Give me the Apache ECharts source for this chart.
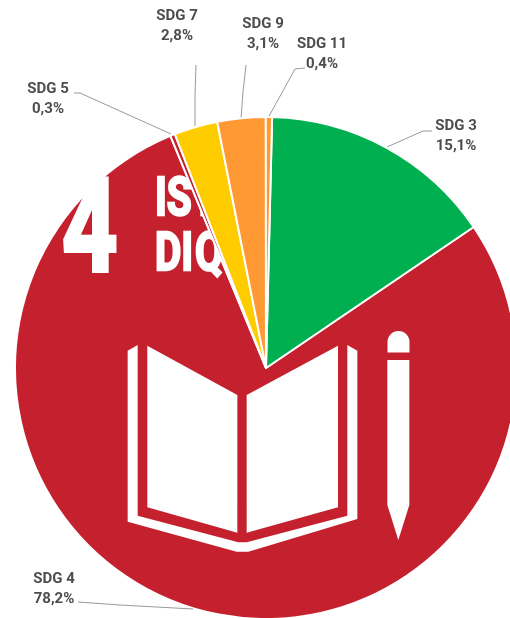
<!DOCTYPE html>
<html>
<head>
<meta charset="utf-8">
<style>html,body{margin:0;padding:0;background:#fff}#chart{width:510px;height:618px}</style>
<script src="https://cdn.jsdelivr.net/npm/echarts@6/dist/echarts.min.js"></script>
</head>
<body>
<div id="chart"></div>
<script>
// Share of the portfolio by Sustainable Development Goal, in percent.
const categories = ['SDG 3', 'SDG 4', 'SDG 5', 'SDG 7', 'SDG 9', 'SDG 11'];
const shares = [15.1, 78.2, 0.3, 2.8, 3.1, 0.4];
const colours = ['#00b050', '#c4202e', '#c4202e', '#ffcc00', '#ff9933', '#ff9933'];
const backdropGoal = 'SDG 4';

// Label centres and leader-line routes, per goal.
const labelSpots = {
  'SDG 3':  { x: 456, y: 136, line: [[432, 131], [423, 131], [387, 147]] },
  'SDG 4':  { x: 54,  y: 589, line: [[78, 602], [120, 605], [193, 609]] },
  'SDG 5':  { x: 48,  y: 99,  line: [[74, 93], [80, 93], [171, 134]] },
  'SDG 7':  { x: 177, y: 26,  line: [[196, 65], [195, 95], [195, 127]] },
  'SDG 9':  { x: 263, y: 34,  line: [[246, 65], [243, 92], [241, 119]] },
  'SDG 11': { x: 322, y: 54,  line: [[305, 68], [295, 69], [268, 118]] }
};

const centre = [266, 368];
const radius = 251;
const white = '#ffffff';

const dataFor = (showGoal) => categories.map((name, i) => ({
  name,
  value: shares[i],
  itemStyle: showGoal(name)
    ? { color: colours[i], borderColor: white, borderWidth: 2 }
    : { color: 'transparent', borderWidth: 0 }
}));

const basePie = {
  type: 'pie',
  center: centre,
  radius: [0, radius],
  startAngle: 88.6,
  clockwise: true,
  animation: false,
  silent: true
};

// Goal 4 emblem: sits above the large slice and below the smaller ones.
const toPage = (pts) => pts.map(([x, y]) => [x / 3 + 100, y / 3 + 320]);
const emblemShape = (points) => ({
  type: 'polygon', z: 2, shape: { points: toPage(points) }, style: { fill: white }
});
const emblemText = (text, font, x, y, scaleX, thickness) => ({
  type: 'text', z: 2, x, y, scaleX,
  style: { text, font, fill: white, stroke: white, lineWidth: thickness }
});
const emblem = [
  emblemText('4', 'bold 129px Roboto', 62, 174, 0.75, 4),
  emblemText('ISTRUZIONE', 'bold 54px Roboto', 155, 174, 0.75, 2.5),
  emblemText('DI', 'bold 54px Roboto', 155, 229, 0.75, 2.5),
  emblemText('QUALITÀ', 'bold 54px Roboto', 195, 229, 0.75, 2.5),
  emblemShape([[83, 92], [113, 75], [113, 587], [415, 667], [440, 667], [742, 587], [742, 75], [772, 92], [772, 597], [445, 695], [410, 695], [83, 605]]),
  emblemShape([[142, 77], [412, 225], [412, 638], [142, 562]]),
  emblemShape([[440, 225], [714, 77], [714, 562], [440, 638]]),
  emblemShape([[862, 120], [928, 120], [928, 555], [895, 660], [862, 555]]),
  { type: 'rect', z: 2,
    shape: { x: 387.5, y: 331, width: 22, height: 21.5, r: [11, 11, 0, 0] },
    style: { fill: white } }
];

const chart = echarts.init(document.getElementById('chart'), null, { renderer: 'canvas' });
chart.setOption({
  backgroundColor: white,
  graphic: { elements: emblem },
  series: [
    Object.assign({}, basePie, {
      z: 1,
      label: { show: false },
      labelLine: { show: false },
      data: dataFor((name) => name === backdropGoal)
    }),
    Object.assign({}, basePie, {
      z: 3,
      data: dataFor((name) => name !== backdropGoal),
      label: {
        show: true,
        position: 'outside',
        overflow: 'none',
        color: '#4d4d4d',
        fontFamily: 'Roboto',
        fontWeight: 'bold',
        fontSize: 15,
        lineHeight: 19.5,
        align: 'center',
        formatter: (p) => p.name + '\n' + String(p.value).replace('.', ',') + '%'
      },
      labelLine: { show: true, lineStyle: { color: '#9a9a9a', width: 1 } },
      labelLayout: (p) => {
        const spot = labelSpots[categories[p.dataIndex]];
        return { x: spot.x, y: spot.y, align: 'center', verticalAlign: 'middle', labelLinePoints: spot.line };
      }
    })
  ]
});
</script>
</body>
</html>
